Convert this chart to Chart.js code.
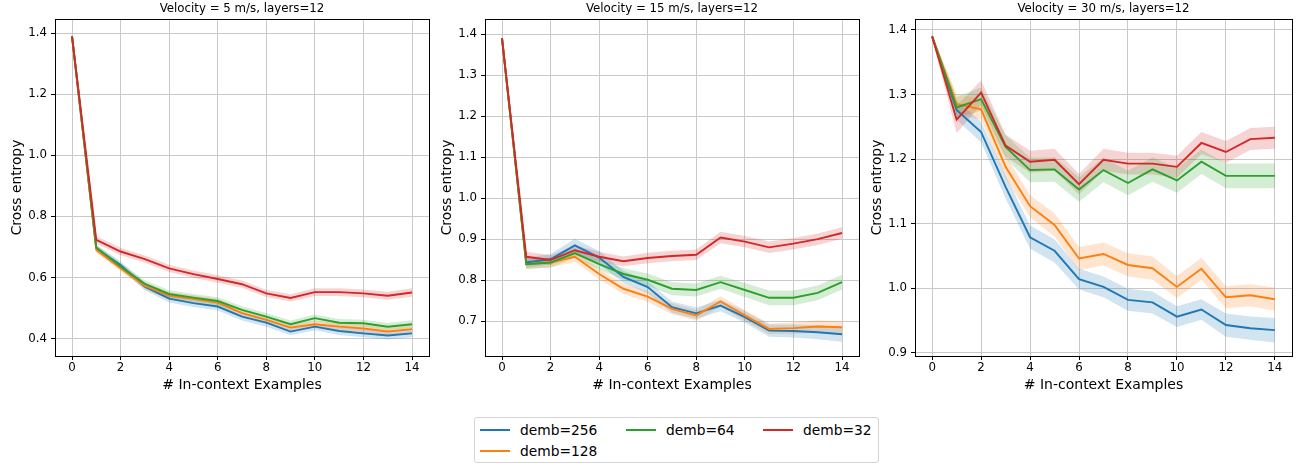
<!DOCTYPE html>
<html>
<head>
<meta charset="utf-8">
<script src="https://cdn.jsdelivr.net/npm/chart.js@4.4.0/dist/chart.umd.min.js"></script>
<style>
  body { margin: 0; background: #fff; width: 1307px; height: 466px; position: relative; overflow: hidden; font-family: 'DejaVu Sans', sans-serif; }
  canvas { position: absolute; top: 0; }
  #legend { position: absolute; left: 474px; top: 417px; width: 405px; height: 46px; border: 1px solid #d4d4d4; border-radius: 3px; box-sizing: border-box; background: #fff; }
  .item { position: absolute; display: flex; align-items: center; height: 16px; font-size: 13.8px; line-height: 16px; color: #000; white-space: nowrap; }
  .swatch { width: 30px; height: 2px; margin-right: 10px; }
</style>
</head>
<body>
<canvas id="v5" width="440" height="400" style="left:0px"></canvas>
<canvas id="v15" width="436" height="400" style="left:430px"></canvas>
<canvas id="v30" width="447" height="400" style="left:860px"></canvas>
<div id="legend"></div>
<script>
const examples = [0, 1, 2, 3, 4, 5, 6, 7, 8, 9, 10, 11, 12, 13, 14]
const xTicks = [0, 2, 4, 6, 8, 10, 12, 14]
const seriesLabels = ['demb=256', 'demb=128', 'demb=64', 'demb=32']
const seriesColors = ['#1f77b4', '#ff7f0e', '#2ca02c', '#d62728']
const bandColors = ['rgba(31,119,180,0.2)', 'rgba(255,127,14,0.2)', 'rgba(44,160,44,0.2)', 'rgba(214,39,40,0.2)']

// Velocity = 5 m/s
const ce5_256 = [1.39, 0.695, 0.641, 0.570, 0.531, 0.516, 0.505, 0.472, 0.452, 0.423, 0.439, 0.425, 0.417, 0.410, 0.417]
const ce5_128 = [1.39, 0.690, 0.630, 0.572, 0.540, 0.530, 0.518, 0.483, 0.461, 0.436, 0.447, 0.439, 0.433, 0.423, 0.431]
const ce5_64 = [1.39, 0.698, 0.636, 0.579, 0.546, 0.534, 0.523, 0.494, 0.472, 0.447, 0.467, 0.452, 0.450, 0.439, 0.447]
const ce5_32 = [1.39, 0.723, 0.685, 0.660, 0.630, 0.611, 0.595, 0.578, 0.548, 0.533, 0.552, 0.552, 0.548, 0.540, 0.551]
const sd5_256 = [0.003, 0.010, 0.012, 0.012, 0.013, 0.013, 0.013, 0.013, 0.013, 0.012, 0.012, 0.013, 0.013, 0.013, 0.013]
const sd5_128 = [0.003, 0.010, 0.010, 0.011, 0.012, 0.012, 0.012, 0.012, 0.012, 0.011, 0.011, 0.012, 0.012, 0.012, 0.012]
const sd5_64 = [0.003, 0.010, 0.011, 0.012, 0.012, 0.012, 0.012, 0.012, 0.012, 0.012, 0.012, 0.012, 0.012, 0.012, 0.013]
const sd5_32 = [0.003, 0.012, 0.012, 0.012, 0.012, 0.012, 0.012, 0.012, 0.012, 0.012, 0.013, 0.013, 0.013, 0.013, 0.014]

// Velocity = 15 m/s
const ce15_256 = [1.39, 0.843, 0.851, 0.885, 0.855, 0.808, 0.783, 0.734, 0.719, 0.738, 0.710, 0.677, 0.676, 0.673, 0.668]
const ce15_128 = [1.39, 0.839, 0.843, 0.857, 0.815, 0.779, 0.760, 0.730, 0.714, 0.748, 0.714, 0.681, 0.683, 0.687, 0.685]
const ce15_64 = [1.39, 0.839, 0.843, 0.866, 0.839, 0.815, 0.801, 0.779, 0.776, 0.795, 0.776, 0.757, 0.757, 0.769, 0.795]
const ce15_32 = [1.39, 0.857, 0.849, 0.873, 0.857, 0.846, 0.854, 0.859, 0.862, 0.904, 0.894, 0.880, 0.889, 0.900, 0.915]
const sd15_256 = [0.003, 0.012, 0.013, 0.016, 0.016, 0.015, 0.015, 0.014, 0.014, 0.014, 0.014, 0.015, 0.016, 0.017, 0.018]
const sd15_128 = [0.003, 0.012, 0.012, 0.013, 0.013, 0.013, 0.013, 0.013, 0.013, 0.013, 0.013, 0.013, 0.014, 0.015, 0.015]
const sd15_64 = [0.003, 0.012, 0.012, 0.012, 0.013, 0.014, 0.015, 0.016, 0.016, 0.016, 0.017, 0.018, 0.018, 0.018, 0.018]
const sd15_32 = [0.003, 0.012, 0.012, 0.012, 0.012, 0.012, 0.013, 0.013, 0.013, 0.014, 0.014, 0.014, 0.014, 0.014, 0.014]

// Velocity = 30 m/s
const ce30_256 = [1.39, 1.276, 1.242, 1.157, 1.079, 1.058, 1.014, 1.002, 0.982, 0.978, 0.956, 0.967, 0.943, 0.938, 0.935]
const ce30_128 = [1.39, 1.285, 1.277, 1.188, 1.127, 1.098, 1.046, 1.053, 1.036, 1.031, 1.002, 1.030, 0.986, 0.989, 0.983]
const ce30_64 = [1.39, 1.280, 1.293, 1.219, 1.183, 1.184, 1.153, 1.183, 1.163, 1.184, 1.167, 1.196, 1.174, 1.174, 1.174]
const ce30_32 = [1.39, 1.261, 1.303, 1.221, 1.196, 1.199, 1.161, 1.199, 1.193, 1.193, 1.188, 1.225, 1.211, 1.231, 1.233]
const sd30_256 = [0.003, 0.015, 0.016, 0.018, 0.018, 0.018, 0.016, 0.016, 0.017, 0.017, 0.016, 0.016, 0.018, 0.018, 0.019]
const sd30_128 = [0.003, 0.016, 0.016, 0.018, 0.017, 0.018, 0.018, 0.018, 0.018, 0.018, 0.017, 0.017, 0.017, 0.017, 0.018]
const sd30_64 = [0.003, 0.016, 0.018, 0.018, 0.019, 0.019, 0.019, 0.019, 0.019, 0.019, 0.019, 0.019, 0.019, 0.019, 0.019]
const sd30_32 = [0.003, 0.021, 0.019, 0.017, 0.017, 0.017, 0.016, 0.017, 0.017, 0.017, 0.017, 0.017, 0.017, 0.017, 0.017]

const yTicks5 = [0.4, 0.6, 0.8, 1.0, 1.2, 1.4]
const yTicks15 = [0.7, 0.8, 0.9, 1.0, 1.1, 1.2, 1.3, 1.4]
const yTicks30 = [0.9, 1.0, 1.1, 1.2, 1.3, 1.4]

const FONT = 'DejaVu Sans'

// axes frame on all four sides plus a title centred over the plot area
const framePlugin = {
  id: 'frame',
  afterDraw(chart, args, opts) {
    const { ctx, chartArea: a } = chart
    ctx.save()
    ctx.strokeStyle = '#000'
    ctx.lineWidth = 1
    ctx.strokeRect(Math.round(a.left) + 0.5, Math.round(a.top) + 0.5, Math.round(a.right - a.left), Math.round(a.bottom - a.top))
    ctx.fillStyle = '#000'
    ctx.font = `11.8px '${FONT}'`
    ctx.textAlign = 'center'
    ctx.textBaseline = 'middle'
    ctx.fillText(opts.text, (a.left + a.right) / 2, 9)
    ctx.restore()
  }
}

function toPoints(values) {
  return values.map((v, i) => ({ x: examples[i], y: v }))
}

function renderPanel(id, title, means, sds, yMin, yMax, yTicks, padRight) {
  const datasets = []
  means.forEach((mean, i) => {
    const lower = mean.map((v, k) => v - sds[i][k])
    const upper = mean.map((v, k) => v + sds[i][k])
    datasets.push({
      data: toPoints(lower), borderWidth: 0, pointRadius: 0, fill: false, order: 10 + i
    })
    datasets.push({
      data: toPoints(upper), borderWidth: 0, pointRadius: 0, fill: '-1',
      backgroundColor: bandColors[i], order: 10 + i
    })
    datasets.push({
      label: seriesLabels[i], data: toPoints(mean), borderColor: seriesColors[i],
      borderWidth: 1.9, pointRadius: 0, fill: false, tension: 0, order: 3 - i
    })
  })

  new Chart(document.getElementById(id), {
    type: 'line',
    data: { datasets },
    plugins: [framePlugin],
    options: {
      responsive: false,
      animation: false,
      layout: { padding: { top: 19, right: padRight, left: 0, bottom: 0 } },
      plugins: {
        legend: { display: false },
        tooltip: { enabled: false },
        filler: { drawTime: 'beforeDatasetsDraw' },
        frame: { text: title }
      },
      scales: {
        x: {
          type: 'linear', min: -0.7, max: 14.7,
          afterBuildTicks: (scale) => { scale.ticks = xTicks.map(v => ({ value: v })) },
          afterFit: (scale) => { scale.height = 44 },
          grid: { color: '#c9c9c9', lineWidth: 1, tickColor: '#000', tickLength: 4, tickWidth: 1 },
          border: { display: false },
          ticks: { color: '#000', font: { family: FONT, size: 11.8 }, padding: 1, maxRotation: 0 },
          title: { display: true, text: '# In-context Examples', color: '#000', font: { family: FONT, size: 14 }, padding: { top: 0, bottom: 6 } }
        },
        y: {
          min: yMin, max: yMax,
          afterBuildTicks: (scale) => { scale.ticks = yTicks.map(v => ({ value: v })) },
          afterFit: (scale) => { scale.width = 55 },
          grid: { color: '#c9c9c9', lineWidth: 1, tickColor: '#000', tickLength: 4, tickWidth: 1 },
          border: { display: false },
          ticks: { color: '#000', font: { family: FONT, size: 11.8 }, padding: 4, callback: (v) => Number(v).toFixed(1) },
          title: { display: true, text: 'Cross entropy', color: '#000', font: { family: FONT, size: 13.8 }, padding: { top: 9, bottom: 0 } }
        }
      }
    }
  })
}

renderPanel('v5', 'Velocity = 5 m/s, layers=12',
  [ce5_256, ce5_128, ce5_64, ce5_32], [sd5_256, sd5_128, sd5_64, sd5_32], 0.343, 1.446, yTicks5, 11)
renderPanel('v15', 'Velocity = 15 m/s, layers=12',
  [ce15_256, ce15_128, ce15_64, ce15_32], [sd15_256, sd15_128, sd15_64, sd15_32], 0.615, 1.437, yTicks15, 7)
renderPanel('v30', 'Velocity = 30 m/s, layers=12',
  [ce30_256, ce30_128, ce30_64, ce30_32], [sd30_256, sd30_128, sd30_64, sd30_32], 0.895, 1.417, yTicks30, 15)

// shared legend, three columns filled top to bottom
const legend = document.getElementById('legend')
const colX = [5, 151, 288]
const rowY = [4, 25]
seriesLabels.forEach((label, i) => {
  const col = i < 2 ? 0 : i - 1
  const row = i < 2 ? i : 0
  const item = document.createElement('div')
  item.className = 'item'
  item.style.left = colX[col] + 'px'
  item.style.top = rowY[row] + 'px'
  item.innerHTML = `<span class="swatch" style="background:${seriesColors[i]}"></span><span>${label}</span>`
  legend.appendChild(item)
})
</script>
</body>
</html>
